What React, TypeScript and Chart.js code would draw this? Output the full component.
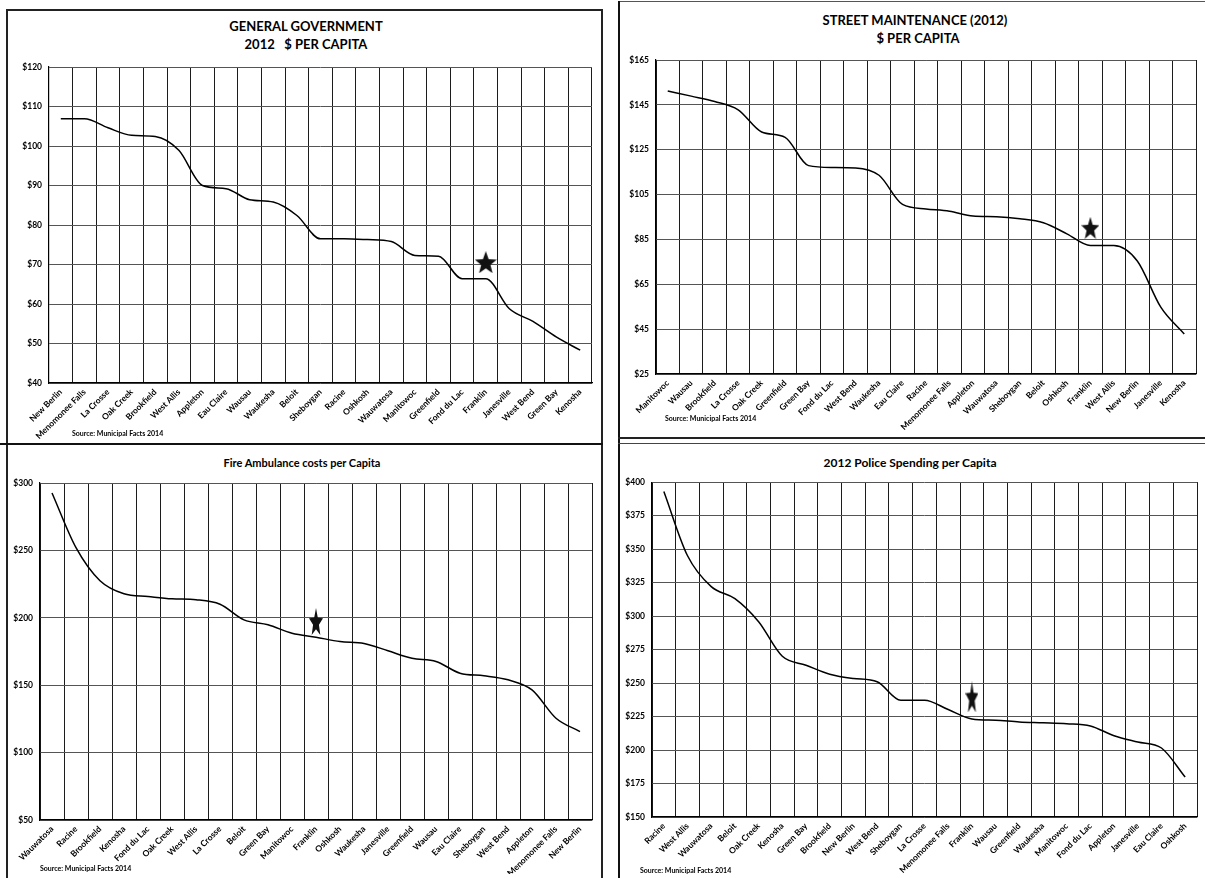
import React, { useEffect, useRef } from "react";
import { Chart, registerables } from "chart.js";

Chart.register(...registerables);

const FONT = 'Lato, "Open Sans", "DejaVu Sans", sans-serif';

// ---------- General Government 2012 $ per capita ----------
const govCities = [
  "New Berlin", "Menomonee Falls", "La Crosse", "Oak Creek", "Brookfield", "West Allis",
  "Appleton", "Eau Claire", "Wausau", "Waukesha", "Beloit", "Sheboygan", "Racine",
  "Oshkosh", "Wauwatosa", "Manitowoc", "Greenfield", "Fond du Lac", "Franklin",
  "Janesville", "West Bend", "Green Bay", "Kenosha",
];
const govValues = [
  106.9, 106.9, 104.6, 102.7, 102.4, 98.9, 90.0, 89.2, 86.4, 85.8, 82.4, 76.5, 76.5,
  76.3, 75.8, 72.3, 72.1, 66.4, 66.4, 58.8, 55.6, 51.6, 48.3,
];
const govStar = 70.6;
const govTicks = { min: 40, max: 120, step: 10 };

// ---------- Street Maintenance (2012) $ per capita ----------
const streetCities = [
  "Manitowoc", "Wausau", "Brookfield", "La Crosse", "Oak Creek", "Greenfield", "Green Bay",
  "Fond du Lac", "West Bend", "Waukesha", "Eau Claire", "Racine", "Menomonee Falls",
  "Appleton", "Wauwatosa", "Sheboygan", "Beloit", "Oshkosh", "Franklin", "West Allis",
  "New Berlin", "Janesville", "Kenosha",
];
const streetValues = [
  151.2, 148.9, 146.5, 142.8, 132.9, 130.5, 117.9, 117.1, 116.9, 113.6, 100.6, 98.6, 97.6,
  95.4, 95.1, 94.2, 92.4, 87.5, 82.3, 82.3, 75.4, 54.8, 42.8,
];
const streetStar = 90.2;
const streetTicks = { min: 25, max: 165, step: 20 };

// ---------- Fire Ambulance costs per capita ----------
const fireCities = [
  "Wauwatosa", "Racine", "Brookfield", "Kenosha", "Fond du Lac", "Oak Creek", "West Allis",
  "La Crosse", "Beloit", "Green Bay", "Manitowoc", "Franklin", "Oshkosh", "Waukesha",
  "Janesville", "Greenfield", "Wausau", "Eau Claire", "Sheboygan", "West Bend", "Appleton",
  "Menomonee Falls", "New Berlin",
];
const fireValues = [
  292.6, 252.0, 227.5, 217.8, 215.8, 214.1, 213.4, 210.1, 198.5, 194.8, 188.6, 185.6, 182.4,
  181.0, 175.5, 170.0, 167.6, 158.9, 157.0, 154.0, 146.5, 125.5, 115.6,
];
const fireStar = 197.3;
const fireTicks = { min: 50, max: 300, step: 50 };

// ---------- 2012 Police Spending per capita ----------
const policeCities = [
  "Racine", "West Allis", "Wauwatosa", "Beloit", "Oak Creek", "Kenosha", "Green Bay",
  "Brookfield", "New Berlin", "West Bend", "Sheboygan", "La Crosse", "Menomonee Falls",
  "Franklin", "Wausau", "Greenfield", "Waukesha", "Manitowoc", "Fond du Lac", "Appleton",
  "Janesville", "Eau Claire", "Oshkosh",
];
const policeValues = [
  393.0, 345.0, 322.0, 313.0, 295.8, 270.0, 263.3, 256.6, 253.4, 251.0, 237.2, 237.2, 230.2,
  223.2, 222.2, 221.0, 220.4, 219.7, 218.0, 210.7, 206.0, 201.5, 179.8,
];
const policeStar = 239.6;
const policeTicks = { min: 150, max: 400, step: 25 };

const HIGHLIGHT = "Franklin";
const SOURCE = "Source: Municipal Facts 2014";

function makeStar(w: number, h: number): HTMLCanvasElement {
  const c = document.createElement("canvas");
  c.width = w;
  c.height = h;
  const ctx = c.getContext("2d")!;
  ctx.fillStyle = "#111";
  ctx.beginPath();
  for (let k = 0; k < 10; k++) {
    const r = k % 2 === 0 ? 1 : 0.42;
    const a = -Math.PI / 2 + (k * Math.PI) / 5;
    const x = (0.5 + (Math.cos(a) * r) / 1.902) * w;
    const y = ((Math.sin(a) * r + 1) / 1.809) * h;
    if (k === 0) ctx.moveTo(x, y);
    else ctx.lineTo(x, y);
  }
  ctx.closePath();
  ctx.fill();
  return c;
}

type Box = { left: number; top: number; width: number; height: number };
type Plot = { left: number; top: number; right: number; bottom: number };

function LineChart(props: {
  cities: string[];
  values: number[];
  star: number;
  ticks: { min: number; max: number; step: number };
  box: Box;
  plot: Plot;
  starW: number;
  starH: number;
}) {
  const ref = useRef<HTMLCanvasElement | null>(null);
  useEffect(() => {
    const { cities, values, star, ticks, box, plot, starW, starH } = props;
    const yw = plot.left - box.left;
    const xh = box.top + box.height - plot.bottom;
    const padTop = plot.top - box.top;
    const padRight = box.left + box.width - plot.right;
    const tickFont = { family: FONT, size: 8.5, weight: "bold" as const };
    const chart = new Chart(ref.current!, {
      type: "line",
      data: {
        labels: cities,
        datasets: [
          {
            data: cities.map((c) => (c === HIGHLIGHT ? star : null)),
            showLine: false,
            pointStyle: makeStar(starW, starH) as any,
            pointRadius: 6,
            borderColor: "#000",
            backgroundColor: "#000",
            order: -1,
          },
          {
            data: values,
            borderColor: "#000",
            borderWidth: 1.5,
            pointRadius: 0,
            fill: false,
            cubicInterpolationMode: "monotone",
            order: 0,
          },
        ],
      },
      options: {
        animation: false,
        responsive: false,
        layout: { padding: { left: 0, top: padTop, right: padRight, bottom: 0 } },
        plugins: { legend: { display: false }, tooltip: { enabled: false }, title: { display: false } },
        scales: {
          x: {
            type: "category",
            offset: true,
            grid: { display: true, offset: true, color: "#1c1c1c", lineWidth: 1, drawTicks: false },
            border: { display: true, color: "#000", width: 1.2 },
            ticks: {
              autoSkip: false,
              maxRotation: 45,
              minRotation: 45,
              padding: 4,
              color: "#000",
              font: tickFont,
            },
            afterFit: (s: any) => {
              s.height = xh;
            },
          },
          y: {
            min: ticks.min,
            max: ticks.max,
            grid: { color: "#555", lineWidth: 1, drawTicks: false },
            border: { display: true, color: "#000", width: 1.2 },
            ticks: {
              stepSize: ticks.step,
              padding: 7,
              color: "#000",
              font: tickFont,
              callback: (v: any) => "$" + v,
            },
            afterFit: (s: any) => {
              s.width = yw;
            },
          },
        },
      },
    });
    return () => chart.destroy();
  }, []);
  const { box } = props;
  return (
    <canvas
      ref={ref}
      width={box.width}
      height={box.height}
      style={{ position: "absolute", left: box.left, top: box.top, width: box.width, height: box.height }}
    />
  );
}

function Text(props: { cx: number; cy: number; size: number; children: React.ReactNode }) {
  return (
    <div
      style={{
        position: "absolute",
        left: props.cx - 250,
        width: 500,
        top: props.cy - 10,
        height: 20,
        lineHeight: "20px",
        textAlign: "center",
        fontFamily: FONT,
        fontWeight: 700,
        fontSize: props.size,
        color: "#000",
        whiteSpace: "pre",
      }}
    >
      {props.children}
    </div>
  );
}

function Source(props: { x: number; y: number }) {
  return (
    <div
      style={{
        position: "absolute",
        left: props.x,
        top: props.y - 6,
        lineHeight: "12px",
        fontFamily: FONT,
        fontWeight: 700,
        fontSize: 7,
        color: "#000",
        whiteSpace: "pre",
      }}
    >
      {SOURCE}
    </div>
  );
}

function Line(props: { x: number; y: number; w: number; h: number; c?: string }) {
  return (
    <div
      style={{
        position: "absolute",
        left: props.x,
        top: props.y,
        width: props.w,
        height: props.h,
        background: props.c || "#222",
      }}
    />
  );
}

export default function App() {
  return (
    <div
      style={{
        position: "absolute",
        left: 0,
        top: 0,
        width: 1205,
        height: 878,
        background: "#fff",
        overflow: "hidden",
      }}
    >
      {/* panel frames */}
      <Line x={6} y={9} w={596} h={1.5} />
      <Line x={6} y={9} w={1.5} h={869} />
      <Line x={601} y={9} w={1.5} h={869} />
      <Line x={0} y={443} w={603} h={2} c="#111" />
      <Line x={618} y={1} w={587} h={1} c="#555" />
      <Line x={618} y={1} w={2} h={877} c="#111" />
      <Line x={618} y={437} w={587} h={1.5} />
      <Line x={618} y={443} w={587} h={1} c="#444" />

      <Text cx={306} cy={26} size={13}>GENERAL GOVERNMENT</Text>
      <Text cx={306} cy={44} size={13}>{"2012   $ PER CAPITA"}</Text>
      <Text cx={915} cy={20} size={13}>STREET MAINTENANCE (2012)</Text>
      <Text cx={918} cy={38} size={13}>$ PER CAPITA</Text>
      <Text cx={302} cy={463} size={11}>Fire Ambulance costs per Capita</Text>
      <Text cx={910} cy={463} size={12}>2012 Police Spending per Capita</Text>

      <LineChart
        cities={govCities}
        values={govValues}
        star={govStar}
        ticks={govTicks}
        box={{ left: 9, top: 52, width: 590, height: 388 }}
        plot={{ left: 49, top: 67, right: 593, bottom: 383 }}
        starW={22}
        starH={22}
      />
      <LineChart
        cities={streetCities}
        values={streetValues}
        star={streetStar}
        ticks={streetTicks}
        box={{ left: 621, top: 46, width: 583, height: 388 }}
        plot={{ left: 656, top: 60, right: 1196, bottom: 374 }}
        starW={18}
        starH={22}
      />
      <LineChart
        cities={fireCities}
        values={fireValues}
        star={fireStar}
        ticks={fireTicks}
        box={{ left: 9, top: 470, width: 590, height: 404 }}
        plot={{ left: 40, top: 483, right: 594, bottom: 820 }}
        starW={14}
        starH={27}
      />
      <LineChart
        cities={policeCities}
        values={policeValues}
        star={policeStar}
        ticks={policeTicks}
        box={{ left: 621, top: 470, width: 583, height: 404 }}
        plot={{ left: 652, top: 482, right: 1201, bottom: 817 }}
        starW={13}
        starH={31}
      />

      <Source x={72} y={433} />
      <Source x={665} y={418} />
      <Source x={40} y={868} />
      <Source x={640} y={870} />
    </div>
  );
}
